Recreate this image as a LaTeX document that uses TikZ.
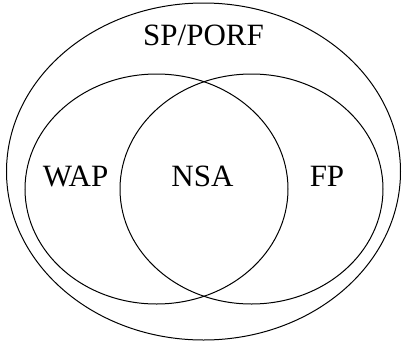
\documentclass[tikz,border=0pt]{standalone}
\usepackage{fontspec}
\setmainfont{Liberation Serif}
\begin{document}
\begin{tikzpicture}[x=1pt,y=-1pt,
  set/.style={draw=black,line width=1pt},
  lbl/.style={anchor=base,inner sep=0pt,font=\fontsize{31}{31}\selectfont}]
\useasboundingbox (0,0) rectangle (402,346);
\draw[set] (203.5,171.5) ellipse [x radius=197, y radius=168.5];
\draw[set] (156.5,189) ellipse [x radius=131.5, y radius=115];
\draw[set] (251.5,189) ellipse [x radius=131.5, y radius=115];
\node[lbl] (sp) at (203.5,45.7) {SP/PORF};
\node[lbl] (wap) at (75.5,186) {WAP};
\node[lbl] (nsa) at (202.5,186) {NSA};
\node[lbl] (fp) at (327,186) {FP};
\end{tikzpicture}
\end{document}
